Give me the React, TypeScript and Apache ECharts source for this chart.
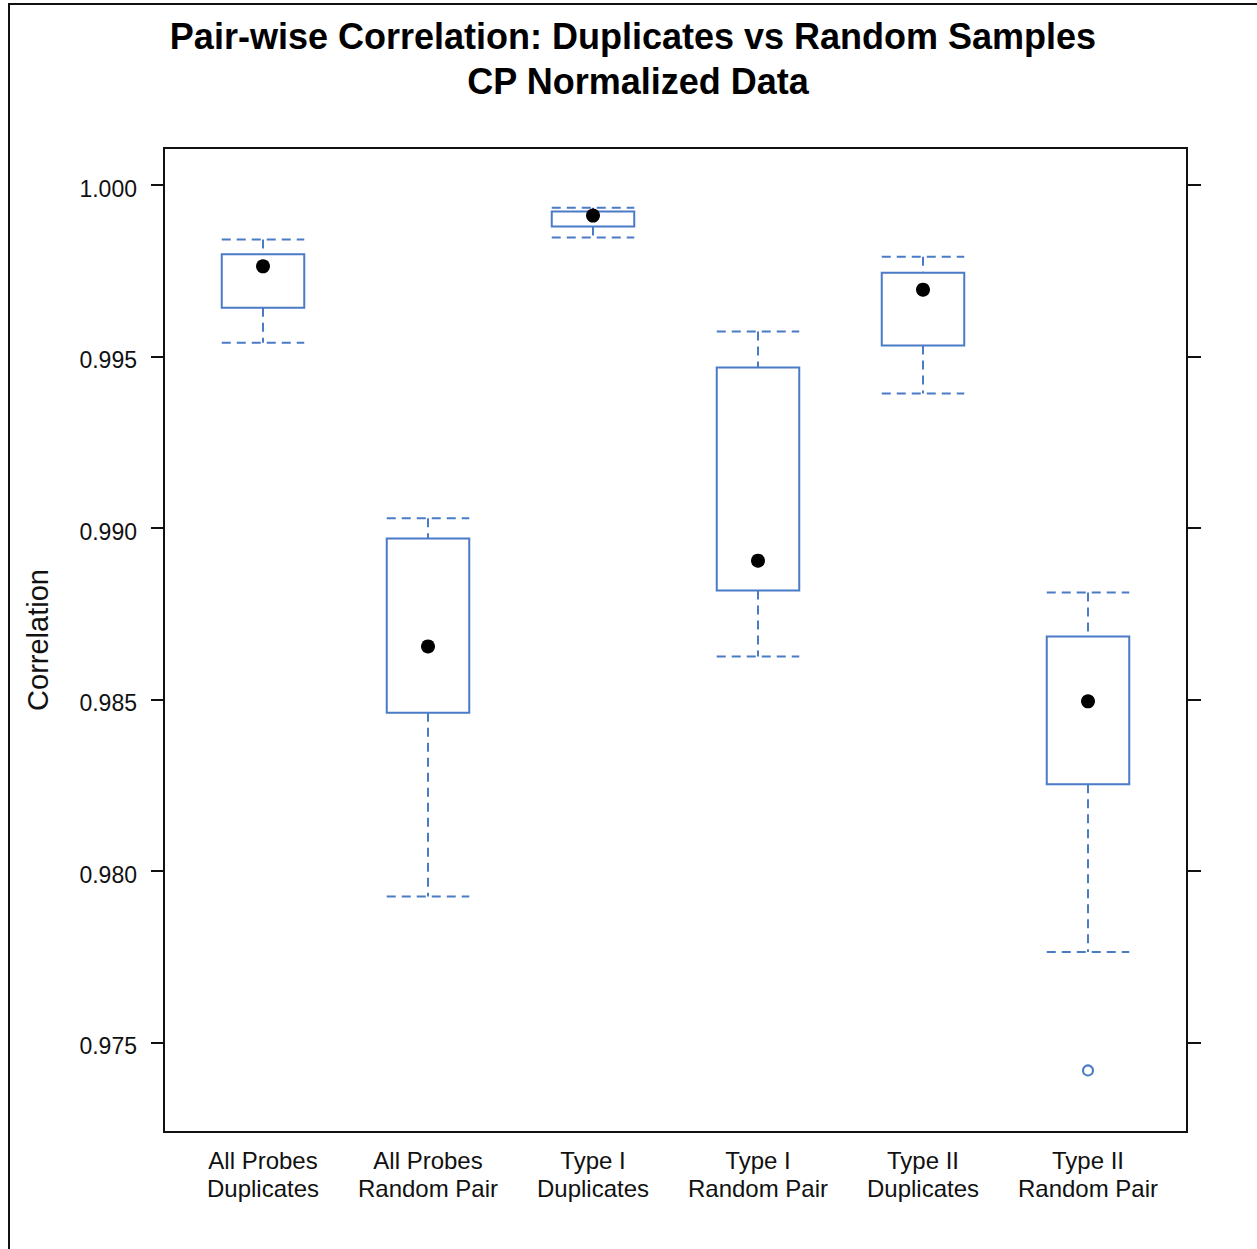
import React, { useEffect, useRef } from "react";
import * as echarts from "echarts";

const categories = [
  "All Probes\nDuplicates",
  "All Probes\nRandom Pair",
  "Type I\nDuplicates",
  "Type I\nRandom Pair",
  "Type II\nDuplicates",
  "Type II\nRandom Pair",
];
const whiskerLow = [0.9954, 0.97926, 0.99847, 0.98626, 0.99392, 0.97764];
const q1 = [0.99642, 0.98462, 0.99879, 0.98818, 0.99532, 0.98253];
const medians = [0.99763, 0.98655, 0.99911, 0.98905, 0.99695, 0.98495];
const q3 = [0.99798, 0.9897, 0.99923, 0.99468, 0.99744, 0.98684];
const whiskerHigh = [0.99841, 0.99029, 0.99934, 0.99573, 0.99791, 0.98812];
const outliers: [number, number][] = [[6, 0.97419]];
const yTicks = [0.975, 0.98, 0.985, 0.99, 0.995, 1.0];

const BLUE = "#4a7bc6";
const FONT = "'Liberation Sans', Arial, Helvetica, sans-serif";

export default function App() {
  const ref = useRef<HTMLDivElement>(null);
  useEffect(() => {
    if (!ref.current) return;
    const chart = echarts.init(ref.current, null, { renderer: "svg" });
    const boxData = categories.map((_, i) => [
      i + 1,
      whiskerLow[i],
      q1[i],
      medians[i],
      q3[i],
      whiskerHigh[i],
    ]);
    const medianData = medians.map((m, i) => [i + 1, m]);
    const option: any = {
      animation: false,
      backgroundColor: "#fff",
      textStyle: { fontFamily: FONT },
      grid: {
        left: 164,
        top: 148,
        width: 1023,
        height: 984,
        show: true,
        borderColor: "#111",
        borderWidth: 2,
        backgroundColor: "transparent",
      },
      xAxis: {
        type: "value",
        min: 0.4,
        max: 6.6,
        splitLine: { show: false },
        axisLine: { show: false },
        axisTick: { show: false },
        axisLabel: {
          customValues: [1, 2, 3, 4, 5, 6],
          formatter: (v: number) => categories[Math.round(v) - 1] || "",
          fontSize: 24,
          lineHeight: 28,
          color: "#111",
          fontFamily: FONT,
          margin: 14,
          align: "center",
        },
      },
      yAxis: [
        {
          type: "value",
          min: 0.972395,
          max: 1.00108,
          position: "left",
          splitLine: { show: false },
          axisLine: { show: false },
          axisTick: {
            show: true,
            customValues: yTicks,
            length: 13,
            lineStyle: { color: "#111", width: 2 },
          },
          axisLabel: {
            customValues: yTicks,
            formatter: (v: number) => `{t|${v.toFixed(3)}}`,
            color: "#111",
            margin: 27,
            rich: {
              t: {
                fontSize: 23,
                fontFamily: FONT,
                color: "#111",
                padding: [7, 0, 0, 0],
              },
            },
          },
        },
        {
          type: "value",
          min: 0.972395,
          max: 1.00108,
          position: "right",
          splitLine: { show: false },
          axisLine: { show: false },
          axisTick: {
            show: true,
            customValues: yTicks,
            length: 14,
            lineStyle: { color: "#111", width: 2 },
          },
          axisLabel: { show: false },
        },
      ],
      graphic: [
        {
          type: "rect",
          shape: { x: 9, y: 4, width: 1400, height: 1400 },
          style: { fill: "transparent", stroke: "#111", lineWidth: 2 },
          silent: true,
        },
        {
          type: "text",
          x: 633,
          y: 36,
          style: {
            text: "Pair-wise Correlation: Duplicates vs Random Samples",
            font: `bold 36px ${FONT}`,
            fill: "#000",
            align: "center",
            verticalAlign: "middle",
          },
        },
        {
          type: "text",
          x: 638,
          y: 81,
          style: {
            text: "CP Normalized Data",
            font: `bold 36px ${FONT}`,
            fill: "#000",
            align: "center",
            verticalAlign: "middle",
          },
        },
        {
          type: "text",
          x: 38,
          y: 640,
          rotation: Math.PI / 2,
          style: {
            text: "Correlation",
            font: `29px ${FONT}`,
            fill: "#111",
            align: "center",
            verticalAlign: "middle",
          },
        },
      ],
      series: [
        {
          type: "custom",
          data: boxData,
          encode: { x: 0, y: [1, 2, 3, 4, 5] },
          renderItem: (params: any, api: any) => {
            const x = api.value(0);
            const lo = api.coord([x, api.value(1)]);
            const b1 = api.coord([x, api.value(2)]);
            const b3 = api.coord([x, api.value(4)]);
            const hi = api.coord([x, api.value(5)]);
            const w = api.size([0.5, 0])[0];
            const cx = lo[0];
            const dash = { stroke: BLUE, lineWidth: 2, lineDash: [9, 6], fill: null };
            return {
              type: "group",
              children: [
                {
                  type: "line",
                  shape: { x1: cx, y1: hi[1], x2: cx, y2: b3[1] },
                  style: dash,
                },
                {
                  type: "line",
                  shape: { x1: cx, y1: b1[1], x2: cx, y2: lo[1] },
                  style: dash,
                },
                {
                  type: "line",
                  shape: { x1: cx - w / 2, y1: hi[1], x2: cx + w / 2, y2: hi[1] },
                  style: dash,
                },
                {
                  type: "line",
                  shape: { x1: cx - w / 2, y1: lo[1], x2: cx + w / 2, y2: lo[1] },
                  style: dash,
                },
                {
                  type: "rect",
                  shape: { x: cx - w / 2, y: b3[1], width: w, height: b1[1] - b3[1] },
                  style: { stroke: BLUE, lineWidth: 2, fill: "transparent" },
                },
              ],
            };
          },
          z: 2,
        },
        {
          type: "scatter",
          data: medianData,
          symbol: "circle",
          symbolSize: 14,
          itemStyle: { color: "#000", opacity: 1 },
          z: 3,
        },
        {
          type: "scatter",
          data: outliers,
          symbol: "emptyCircle",
          symbolSize: 10,
          itemStyle: { color: BLUE, borderColor: BLUE, borderWidth: 1.5, opacity: 1 },
          z: 3,
        },
      ],
    };
    chart.setOption(option);
    return () => chart.dispose();
  }, []);
  return (
    <div
      ref={ref}
      style={{ position: "fixed", left: 0, top: 0, width: 1257, height: 1249, background: "#fff" }}
    />
  );
}
